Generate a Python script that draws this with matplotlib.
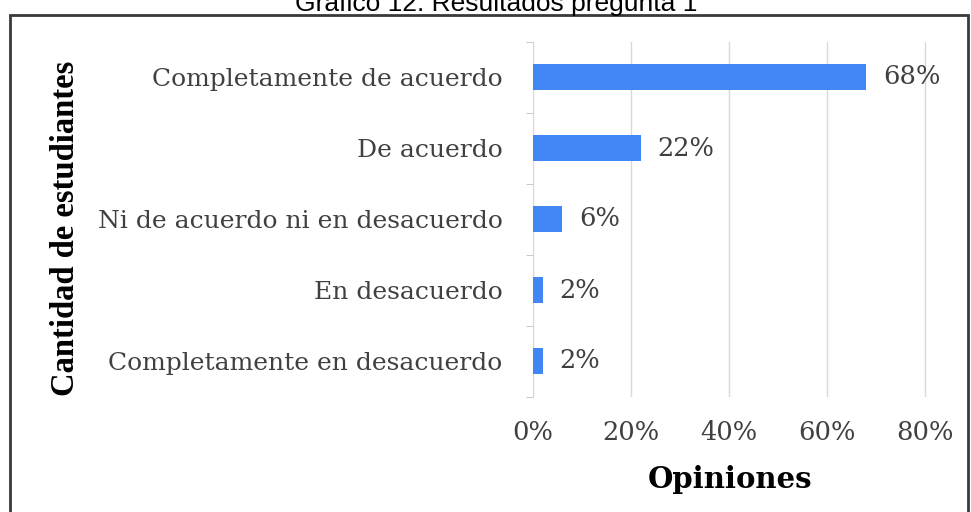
import matplotlib.pyplot as plt
from matplotlib.patches import Rectangle
from matplotlib.ticker import FixedLocator, PercentFormatter

categorias = ["Completamente de acuerdo", "De acuerdo",
              "Ni de acuerdo ni en desacuerdo", "En desacuerdo",
              "Completamente en desacuerdo"]
porcentajes = [68, 22, 6, 2, 2]
xticks = [0, 20, 40, 60, 80]

serif = "DejaVu Serif"
gris = "#404040"

fig = plt.figure(figsize=(9.71, 5.12), dpi=100)
W, H = 971, 512

# marco del grafico
fig.patches.append(Rectangle((10 / W, -0.1), 958 / W, 1.1 - 15 / H,
                             transform=fig.transFigure, fill=False,
                             edgecolor="#3a3a3a", linewidth=2))

fig.text(496 / W, 1 - 11 / H, "Gráfico 12: Resultados pregunta 1",
         family="Liberation Sans", fontsize=19, ha="center", va="baseline")

# un poco de margen a la derecha para que se vea la linea del 80%
ax = fig.add_axes([533 / W, 1 - 396.5 / H, 394 / W, 355 / H])
pos = list(range(len(categorias)))
ax.barh(pos, porcentajes, height=0.36, color="#4285f4", zorder=3)

for y, v in zip(pos, porcentajes):
    ax.annotate(f"{v}%", (v, y), xytext=(12, 0), textcoords="offset points",
                va="center", ha="left", family=serif, fontsize=18.5, color=gris)

ax.set_xlim(0, 80.4)
ax.set_ylim(len(categorias) - 0.5, -0.5)
ax.set_xticks(xticks)
ax.xaxis.set_major_formatter(PercentFormatter(decimals=0))
ax.set_yticks(pos)
ax.set_yticklabels(categorias)
ax.yaxis.set_minor_locator(FixedLocator([p - 0.5 for p in pos] + [pos[-1] + 0.5]))
ax.tick_params(axis="y", which="major", length=0, pad=22)
ax.tick_params(axis="y", which="minor", length=5, color="#bfbfbf")
ax.tick_params(axis="x", length=0, pad=17)
for lab in ax.get_xticklabels():
    lab.set_family(serif)
    lab.set_fontsize(18.5)
    lab.set_color(gris)
for lab in ax.get_yticklabels():
    lab.set_family(serif)
    lab.set_fontsize(18)
    lab.set_color(gris)

ax.grid(axis="x", color="#d9d9d9", linewidth=1, zorder=0)
for s in ["top", "right", "bottom"]:
    ax.spines[s].set_visible(False)
ax.spines["left"].set_color("#d9d9d9")

ax.set_xlabel("Opiniones", family=serif, fontweight="bold", fontsize=21,
              labelpad=14)
fig.text(65 / W, 1 - 228 / H, "Cantidad de estudiantes", rotation=90,
         family="Liberation Serif", fontweight="bold", fontsize=23.5,
         ha="center", va="center")

fig.savefig("out.png", dpi=100)
